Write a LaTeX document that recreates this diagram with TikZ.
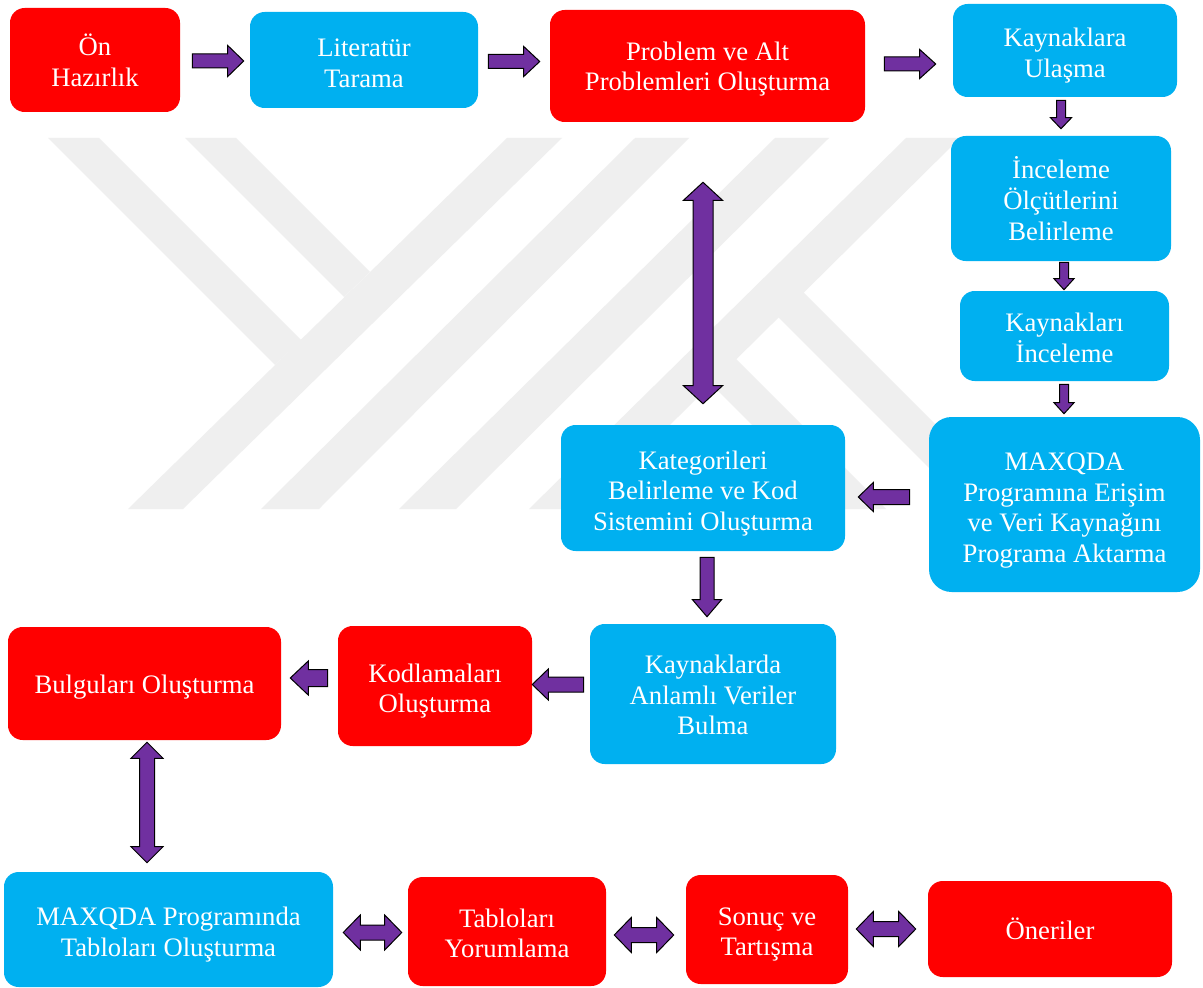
\documentclass[tikz,border=0pt]{standalone}
\usepackage{fontspec}
\setmainfont{Liberation Serif}
\usetikzlibrary{calc}
\definecolor{boxred}{HTML}{FF0000}
\definecolor{boxblue}{HTML}{00B0F0}
\definecolor{arrpurple}{HTML}{7030A0}
\definecolor{wmgray}{HTML}{EFEFEF}
\tikzset{
  box/.style={rounded corners=11pt, inner sep=0pt},
  redbox/.style={box, fill=boxred},
  bluebox/.style={box, fill=boxblue},
  txt/.style={inner sep=0pt, text=white, align=center,
    font=\fontsize{20}{23}\selectfont},
  blockarrow/.style={draw=black, fill=arrpurple, line width=0.75pt, line join=miter},
  wm/.style={fill=wmgray}
}
% single block arrow: #1 shaft half width, #2 head half width, #3 head length (px), #4 start, #5 end
\newcommand\sarrow[5]{%
  \pgfmathsetmacro\bsw{#1*0.75}\pgfmathsetmacro\bhw{#2*0.75}\pgfmathsetmacro\bhl{#3*0.75}%
  \coordinate (baS) at (#4);
  \coordinate (baE) at (#5);
  \coordinate (baB) at ($(baE)!\bhl pt!(baS)$);
  \draw[blockarrow] ($(baS)!\bsw pt!90:(baE)$) -- ($(baB)!\bsw pt!90:(baE)$) --
    ($(baB)!\bhw pt!90:(baE)$) -- (baE) -- ($(baB)!\bhw pt!-90:(baE)$) --
    ($(baB)!\bsw pt!-90:(baE)$) -- ($(baS)!\bsw pt!-90:(baE)$) -- cycle;}
% double block arrow
\newcommand\darrow[5]{%
  \pgfmathsetmacro\bsw{#1*0.75}\pgfmathsetmacro\bhw{#2*0.75}\pgfmathsetmacro\bhl{#3*0.75}%
  \coordinate (baS) at (#4);
  \coordinate (baE) at (#5);
  \coordinate (baA) at ($(baS)!\bhl pt!(baE)$);
  \coordinate (baB) at ($(baE)!\bhl pt!(baS)$);
  \draw[blockarrow] (baS) -- ($(baA)!\bhw pt!90:(baE)$) -- ($(baA)!\bsw pt!90:(baE)$) --
    ($(baB)!\bsw pt!90:(baE)$) -- ($(baB)!\bhw pt!90:(baE)$) -- (baE) --
    ($(baB)!\bhw pt!-90:(baE)$) -- ($(baB)!\bsw pt!-90:(baE)$) --
    ($(baA)!\bsw pt!-90:(baE)$) -- ($(baA)!\bhw pt!-90:(baE)$) -- cycle;}
\begin{document}
\begin{tikzpicture}[x=0.75pt, y=-0.75pt]
\useasboundingbox (0,0) rectangle (1203,988);
\fill[white] (0,0) rectangle (1203,988);
% watermark
\fill[wm] (128,509) -- (183,509) -- (562,138) -- (507,138) -- cycle;
\fill[wm] (261,509) -- (319,509) -- (689,138) -- (635,138) -- cycle;
\fill[wm] (399,509) -- (456,509) -- (829,138) -- (775,138) -- cycle;
\fill[wm] (529,509) -- (585,509) -- (960,138) -- (906,138) -- cycle;
\fill[wm] (48,138) -- (99,138) -- (301,340) -- (275,365) -- cycle;
\fill[wm] (185,138) -- (236,138) -- (370,272) -- (344,297) -- cycle;
\fill[wm] (803,292) -- (1020,509) -- (970,509) -- (778,317) -- cycle;
\fill[wm] (735,358) -- (886,509) -- (836,509) -- (711,384) -- cycle;
% boxes
\node[redbox, minimum width=127.5pt, minimum height=78pt] (on) at (95,60) {};
\node[bluebox, minimum width=171pt, minimum height=72pt] (lit) at (364,60) {};
\node[redbox, minimum width=236.25pt, minimum height=84pt] (prob) at (707.5,66) {};
\node[bluebox, minimum width=168pt, minimum height=69.75pt] (ulas) at (1065,50.5) {};
\node[bluebox, minimum width=165pt, minimum height=93.75pt] (olcut) at (1061,198.5) {};
\node[bluebox, minimum width=156.75pt, minimum height=67.5pt] (incel) at (1064.5,336) {};
\node[bluebox, rounded corners=17pt, minimum width=203.25pt, minimum height=131.25pt] (maxe) at (1064.5,504.5) {};
\node[bluebox, minimum width=213pt, minimum height=94.5pt] (kat) at (703,488) {};
\node[bluebox, minimum width=184.5pt, minimum height=105pt] (anlam) at (713,694) {};
\node[redbox, minimum width=145.5pt, minimum height=90pt] (kodla) at (435,686) {};
\node[redbox, minimum width=204.75pt, minimum height=84.75pt] (bulgu) at (144.5,683.5) {};
\node[bluebox, minimum width=246.75pt, minimum height=86.25pt] (tablo) at (168.5,929.5) {};
\node[redbox, minimum width=148.5pt, minimum height=81.75pt] (yorum) at (507,931.5) {};
\node[redbox, minimum width=121.5pt, minimum height=81.75pt] (sonuc) at (767,929.5) {};
\node[redbox, minimum width=183pt, minimum height=72pt] (oneri) at (1050,929) {};
% texts
\node[txt] (onT) at ($(on)+(0,0)$) {Ön\\Hazırlık};
\node[txt] (litT) at ($(lit)+(0,3)$) {Literatür\\Tarama};
\node[txt] (probT) at ($(prob)+(0,3)$) {Problem ve Alt\\Problemleri Oluşturma};
\node[txt] (ulasT) at ($(ulas)+(0,5)$) {Kaynaklara\\Ulaşma};
\node[txt] (olcutT) at ($(olcut)+(0,0)$) {İnceleme\\Ölçütlerini\\Belirleme};
\node[txt] (incelT) at ($(incel)+(0,2)$) {Kaynakları\\İnceleme};
\node[txt] (maxeT) at ($(maxe)+(0,6)$) {MAXQDA\\Programına Erişim\\ve Veri Kaynağını\\Programa Aktarma};
\node[txt] (katT) at ($(kat)+(0,5.5)$) {Kategorileri\\Belirleme ve Kod\\Sistemini Oluşturma};
\node[txt] (anlamT) at ($(anlam)+(0,1)$) {Kaynaklarda\\Anlamlı Veriler\\Bulma};
\node[txt] (kodlaT) at ($(kodla)+(0,5)$) {Kodlamaları\\Oluşturma};
\node[txt] (bulguT) at ($(bulgu)+(0,4)$) {Bulguları Oluşturma};
\node[txt] (tabloT) at ($(tablo)+(0,5)$) {MAXQDA Programında\\Tabloları Oluşturma};
\node[txt] (yorumT) at ($(yorum)+(0,2)$) {Tabloları\\Yorumlama};
\node[txt] (sonucT) at ($(sonuc)+(0,5)$) {Sonuç ve\\Tartışma};
\node[txt] (oneriT) at ($(oneri)+(0,0)$) {Öneriler};
% arrows
\sarrow{7}{15.5}{16}{$(on.east)+(12,1)$}{$(lit.west)+(-6,1)$}
\sarrow{7}{15}{16}{$(lit.east)+(10,1.5)$}{$(prob.west)+(-10,-4.5)$}
\sarrow{7}{14.5}{16}{$(prob.east)+(19,-2)$}{$(ulas.west)+(-17,13.5)$}
\sarrow{4.5}{10.5}{11}{$(ulas.south)+(-4,3)$}{$(olcut.north)+(0,-7)$}
\sarrow{4.5}{10}{11}{$(olcut.south)+(3,1)$}{$(incel.north)+(-0.5,-1)$}
\sarrow{4.5}{10}{11}{$(incel.south)+(-0.5,3)$}{$(maxe.north)+(-0.5,-3)$}
\sarrow{7.5}{14.5}{15}{$(maxe.west)+(-19,-7.5)$}{$(kat.east)+(13,9)$}
\darrow{10}{19.5}{18}{$(prob.south)+(-4.5,60)$}{$(kat.north)+(0,-21)$}
\sarrow{7}{14.5}{17}{$(kat.south)+(4,6)$}{$(anlam.north)+(-6,-7)$}
\sarrow{7.5}{15.5}{16}{$(anlam.west)+(-6,-9.5)$}{$(kodla.east)+(0,-1.5)$}
\sarrow{8.5}{17}{18}{$(kodla.west)+(-10,-8)$}{$(bulgu.east)+(9,-5.5)$}
\darrow{7.5}{16}{16}{$(bulgu.south)+(2.5,2)$}{$(tablo.north)+(-21.5,-9)$}
\darrow{7.5}{17.5}{17}{$(tablo.east)+(10,3)$}{$(yorum.west)+(-6,1)$}
\darrow{7.5}{17.5}{17}{$(yorum.east)+(8,3.5)$}{$(sonuc.west)+(-12,5.5)$}
\darrow{7.5}{17.5}{17}{$(sonuc.east)+(8,-0.5)$}{$(oneri.west)+(-12,0)$}
\end{tikzpicture}
\end{document}
